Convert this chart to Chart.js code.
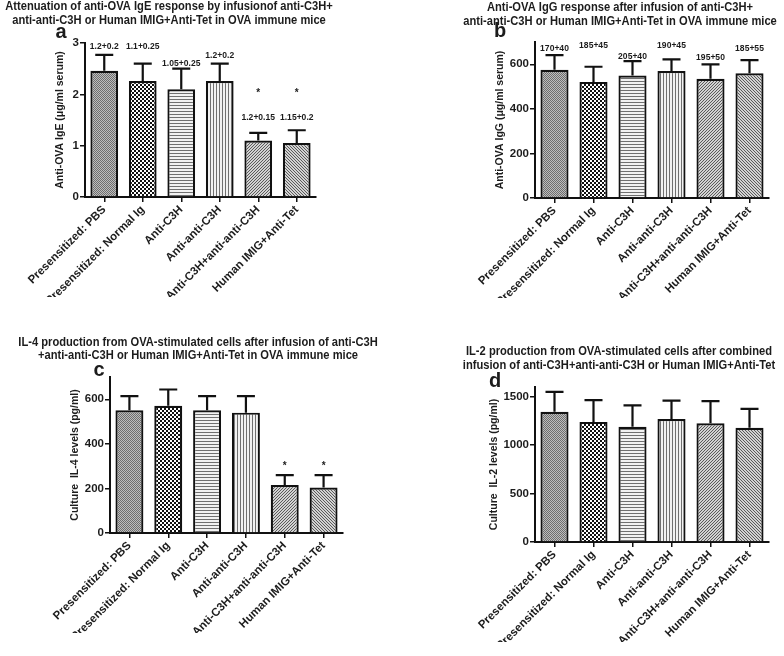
<!DOCTYPE html>
<html><head><meta charset="utf-8">
<script src="https://cdn.jsdelivr.net/npm/chart.js@4.4.0/dist/chart.umd.min.js"></script>
<style>
html,body{margin:0;padding:0;background:#fff;}
#wrap{position:relative;width:784px;height:656px;overflow:hidden;background:#fff;}
#wrap canvas{position:absolute;left:0;top:0;}
</style></head><body>
<div id="wrap">
<canvas id="ca" width="784" height="656"></canvas>
<canvas id="cb" width="784" height="656"></canvas>
<canvas id="cc" width="784" height="656"></canvas>
<canvas id="cd" width="784" height="656"></canvas>
</div>
<script>
// ---- data ----
const categories = ["Presensitized: PBS","Presensitized: Normal Ig","Anti-C3H","Anti-anti-C3H","Anti-C3H+anti-anti-C3H","Human IMIG+Anti-Tet"];

const igeMean = [2.46, 2.26, 2.10, 2.26, 1.10, 1.05];
const igeErr  = [0.31, 0.34, 0.40, 0.34, 0.15, 0.25];
const igeNotes = ["1.2+0.2","1.1+0.25","1.05+0.25","1.2+0.2","1.2+0.15","1.15+0.2"];
const igeNoteAt = [2.93, 2.93, 2.61, 2.76, 1.56, 1.56];
const igeStars = [null, null, null, null, 2.07, 2.07];
const igeTicks = [0, 1, 2, 3];

const iggMean = [575, 521, 550, 570, 535, 560];
const iggErr  = [66, 68, 64, 52, 65, 59];
const iggNotes = ["170+40","185+45","205+40","190+45","195+50","185+55"];
const iggNoteAt = [673, 685, 634, 685, 631, 673];
const iggTicks = [0, 200, 400, 600];

const il4Mean = [551, 571, 551, 540, 215, 204];
const il4Err  = [63, 73, 63, 74, 45, 56];
const il4Stars = [null, null, null, null, 313, 313];
const il4Ticks = [0, 200, 400, 600];

const il2Mean = [1345, 1240, 1190, 1270, 1225, 1180];
const il2Err  = [205, 225, 220, 190, 230, 195];
const il2Ticks = [0, 500, 1000, 1500];

// ---- patterns ----
function tile(w, h, draw) {
  const c = document.createElement('canvas'); c.width = w; c.height = h;
  const g = c.getContext('2d'); draw(g, w, h);
  return document.createElement('canvas').getContext('2d').createPattern(c, 'repeat');
}
function makePatterns() {
  return [
    tile(2, 2, g => { g.fillStyle = '#bdbdbd'; g.fillRect(0,0,2,2); g.fillStyle = '#6e6e6e'; g.fillRect(0,0,1,1); g.fillRect(1,1,1,1); }),
    tile(4, 4, g => { g.fillStyle = '#fff'; g.fillRect(0,0,4,4); g.fillStyle = '#111'; g.fillRect(0,0,2,2); g.fillRect(2,2,2,2); }),
    tile(3, 3, g => { g.fillStyle = '#f2f2f2'; g.fillRect(0,0,3,3); g.fillStyle = '#707070'; g.fillRect(0,0,3,1); }),
    tile(3, 3, g => { g.fillStyle = '#f2f2f2'; g.fillRect(0,0,3,3); g.fillStyle = '#707070'; g.fillRect(0,0,1,3); }),
    tile(3, 3, g => { g.fillStyle = '#d2d2d2'; g.fillRect(0,0,3,3); g.fillStyle = '#5a5a5a'; for (let i=0;i<3;i++) g.fillRect(2-i,i,1,1); }),
    tile(3, 3, g => { g.fillStyle = '#d2d2d2'; g.fillRect(0,0,3,3); g.fillStyle = '#5a5a5a'; for (let i=0;i<3;i++) g.fillRect(i,i,1,1); })
  ];
}

const FAM = '"Liberation Sans", Arial, sans-serif';
const INK = '#1c1c1c';

function squeezeText(ctx, text, x, y, size, sx, align) {
  ctx.save();
  ctx.font = 'bold ' + size + 'px ' + FAM;
  ctx.fillStyle = INK;
  ctx.textAlign = align || 'center';
  ctx.textBaseline = 'middle';
  ctx.translate(x, y);
  ctx.scale(sx, 1);
  ctx.fillText(text, 0, 0);
  ctx.restore();
}

function annotate(cfg) {
  return {
    id: 'annot_' + cfg.id,
    afterDatasetsDraw(chart) {
      const ctx = chart.ctx, ys = chart.scales.y;
      const meta = chart.getDatasetMeta(0);
      ctx.save();
      ctx.strokeStyle = '#111'; ctx.lineWidth = 2.2;
      meta.data.forEach((el, i) => {
        const top = ys.getPixelForValue(cfg.mean[i] + cfg.err[i]);
        ctx.beginPath();
        ctx.moveTo(el.x, el.y); ctx.lineTo(el.x, top);
        ctx.moveTo(el.x - 9, top); ctx.lineTo(el.x + 9, top);
        ctx.stroke();
        if (cfg.notes) squeezeText(ctx, cfg.notes[i], el.x, ys.getPixelForValue(cfg.noteAt[i]), 9.5, 0.9);
        if (cfg.stars && cfg.stars[i] != null) squeezeText(ctx, '*', el.x, ys.getPixelForValue(cfg.stars[i]) + 3, 10, 1);
      });
      ctx.restore();
    },
    afterDraw(chart) {
      const ctx = chart.ctx;
      cfg.title.forEach((t, k) => squeezeText(ctx, t, cfg.titleX, cfg.titleY[k], 12, 0.93));
      squeezeText(ctx, cfg.letter, cfg.letterX, cfg.letterY, 20, 1);
    }
  };
}

function panel(cfg) {
  const tickSet = cfg.ticks;
  return new Chart(document.getElementById(cfg.id), {
    type: 'bar',
    data: {
      labels: categories,
      datasets: [{
        data: cfg.mean,
        backgroundColor: makePatterns(),
        borderColor: '#111', borderWidth: 2.2, borderSkipped: 'bottom',
        categoryPercentage: 1, barPercentage: 0.72
      }]
    },
    options: {
      responsive: false, animation: false, devicePixelRatio: 1,
      layout: { padding: cfg.pad },
      events: [],
      plugins: { legend: { display: false }, tooltip: { enabled: false }, title: { display: false } },
      scales: {
        x: {
          offset: true,
          grid: { display: true, drawOnChartArea: false, drawTicks: true, tickLength: 5, offset: false, color: '#111', lineWidth: 1.5 },
          border: { display: true, color: '#111', width: 2 },
          ticks: { minRotation: 45, maxRotation: 45, autoSkip: false, color: INK, padding: 1,
                   font: { family: FAM, size: 11.5, weight: 'bold' } },
          afterFit(s) { s.height = 100; }
        },
        y: {
          min: 0, max: cfg.max, bounds: 'data',
          afterBuildTicks(s) { s.ticks = tickSet.map(v => ({ value: v })); },
          grid: { display: true, drawOnChartArea: false, drawTicks: true, tickLength: 5, color: '#111', lineWidth: 1.5 },
          border: { display: true, color: '#111', width: 2 },
          ticks: { color: INK, padding: 1, font: { family: FAM, size: 11.5, weight: 'bold' },
                   callback: v => String(v) },
          title: { display: true, text: cfg.ytitle, color: INK, padding: { top: 4, bottom: 2 },
                   font: { family: FAM, size: 10.5, weight: 'bold' } },
          afterFit(s) { s.width = cfg.yw; }
        }
      }
    },
    plugins: [annotate(cfg)]
  });
}

panel({
  id: 'ca', mean: igeMean, err: igeErr, notes: igeNotes, noteAt: igeNoteAt, stars: igeStars, ticks: igeTicks,
  max: 3, ytitle: 'Anti-OVA IgE (\u03bcg/ml serum)', yw: 35,
  pad: { left: 50, top: 43, right: 468, bottom: 359 },
  title: ['Attenuation of anti-OVA IgE response by infusionof anti-C3H+', 'anti-anti-C3H or Human IMIG+Anti-Tet in OVA immune mice'],
  titleX: 169, titleY: [7, 21], letter: 'a', letterX: 61, letterY: 32
});
panel({
  id: 'cb', mean: iggMean, err: iggErr, notes: iggNotes, noteAt: iggNoteAt, ticks: iggTicks,
  max: 700, ytitle: 'Anti-OVA IgG (\u03bcg/ml serum)', yw: 45,
  pad: { left: 490, top: 42, right: 15, bottom: 358 },
  title: ['Anti-OVA IgG response after infusion of anti-C3H+', 'anti-anti-C3H or Human IMIG+Anti-Tet in OVA immune mice'],
  titleX: 620, titleY: [8, 22], letter: 'b', letterX: 500, letterY: 31
});
panel({
  id: 'cc', mean: il4Mean, err: il4Err, stars: il4Stars, ticks: il4Ticks,
  max: 700, ytitle: 'Culture  IL-4 levels (pg/ml)', yw: 45,
  pad: { left: 65, top: 377, right: 441, bottom: 23 },
  title: ['IL-4 production from OVA-stimulated cells after infusion of anti-C3H', '+anti-anti-C3H or Human IMIG+Anti-Tet in OVA immune mice'],
  titleX: 198, titleY: [342.5, 356], letter: 'c', letterX: 99, letterY: 370
});
panel({
  id: 'cd', mean: il2Mean, err: il2Err, ticks: il2Ticks,
  max: 1600, ytitle: 'Culture  IL-2 levels (pg/ml)', yw: 51,
  pad: { left: 484, top: 387, right: 15, bottom: 14 },
  title: ['IL-2 production from OVA-stimulated cells after combined', 'infusion of anti-C3H+anti-anti-C3H or Human IMIG+Anti-Tet'],
  titleX: 619, titleY: [352, 366], letter: 'd', letterX: 495, letterY: 381
});
</script>
</body></html>
